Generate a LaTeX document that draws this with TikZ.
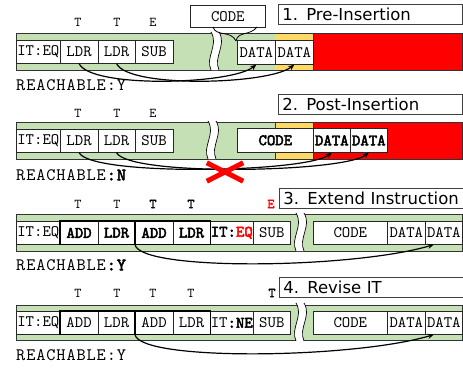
\documentclass[tikz,border=0pt]{standalone}
\usepackage{fontspec}
\setmainfont{DejaVu Sans}
\newfontfamily\monofam{lmmono10-regular.otf}[BoldFont=lmmono10-regular.otf, BoldFeatures={FakeBold=3}]
\newfontfamily\widemono{lmmono10-regular.otf}[BoldFont=lmmono10-regular.otf, BoldFeatures={FakeBold=3}, LetterSpace=5]
\usetikzlibrary{arrows.meta}
\definecolor{stripgreen}{RGB}{197,224,180}
\definecolor{stripyellow}{RGB}{255,217,102}
\definecolor{stripred}{RGB}{255,0,0}

\tikzset{
  cell/.style={draw=black!85, fill=white, line width=0.6pt, inner sep=0pt,
    anchor=north west, minimum height=23pt,
    font=\monofam\fontsize{16}{16}\selectfont},
  titlebox/.style={draw=black!75, fill=white, line width=0.6pt, anchor=north west,
    minimum height=20pt, inner ysep=0pt, inner xsep=4pt, text width=176pt,
    align=left, font=\fontsize{16.5}{17}\selectfont},
  cond/.style={inner sep=0pt, font=\monofam\fontsize{13.5}{13.5}\selectfont},
  reach/.style={anchor=west, inner sep=0pt, font=\widemono\fontsize{17.5}{17.5}\selectfont},
  jump/.style={line width=1.2pt, -{Stealth[length=6pt,width=5pt]}},
  stripline/.style={draw=black!80, line width=0.6pt},
  pairbox/.style={draw=black, line width=1.5pt},
}

% white torn gap across a strip: left x, top y (38 tall)
\newcommand\wavebreak[2]{%
  \fill[white] (#1,#2) .. controls ({#1+8},{#2+13}) and ({#1-6},{#2+25}) .. ({#1},{#2+38})
    -- ({#1+8},{#2+38}) .. controls ({#1+2},{#2+25}) and ({#1+16},{#2+13}) .. ({#1+8},{#2}) -- cycle;
  \draw[line width=0.7pt] (#1,#2) .. controls ({#1+8},{#2+13}) and ({#1-6},{#2+25}) .. ({#1},{#2+38});
  \draw[line width=0.7pt] ({#1+8},{#2}) .. controls ({#1+16},{#2+13}) and ({#1+2},{#2+25}) .. ({#1+8},{#2+38});
}

\begin{document}
\begin{tikzpicture}[x=1pt,y=-1pt]
\useasboundingbox (0,0) rectangle (463,367);

% ---------------- 1. Pre-Insertion ----------------
\fill[stripgreen] (16,33) rectangle (275,70);
\fill[stripyellow] (275,33) rectangle (313,70);
\fill[stripred] (313,33) rectangle (462,70);
\draw[stripline] (16,33) rectangle (462,70);
\draw[stripline] (313,33) -- (313,70);
\wavebreak{211}{32}
\node[cell, minimum width=44pt]   (p1it) at (16,40) {IT:EQ};
\node[cell, minimum width=37.5pt] (p1l1) at (60,40) {LDR};
\node[cell, minimum width=37.5pt] (p1l2) at (97.5,40) {LDR};
\node[cell, minimum width=37.5pt] (p1sb) at (135,40) {SUB};
\node[cell, minimum width=38pt, minimum height=24pt] (p1d1) at (237,40) {DATA};
\node[cell, minimum width=38pt, minimum height=24pt] (p1d2) at (275,40) {DATA};
\node[cell, minimum width=75pt, minimum height=22pt] (p1code) at (190,5) {CODE};
\coordinate (p1tip) at (236,41);
\draw[line width=0.8pt] (213,27) .. controls (216,37) and (231,30) .. (p1tip);
\draw[line width=0.8pt] (257,27) .. controls (250,36) and (238,31) .. (p1tip);
\node[titlebox] (p1title) at (278,4) {1. Pre-Insertion};
\node[cond] (p1c1) at (78,22) {T};
\node[cond] (p1c2) at (117,22) {T};
\node[cond] (p1c3) at (153,22) {E};
\draw[jump] (p1l1.south) .. controls +(12,25) and +(-25,20) .. (p1d1.south);
\draw[jump] (p1l2.south) .. controls +(12,25) and +(-25,20) .. (p1d2.south);
\node[reach] (p1r) at (16,85) {REACHABLE:Y};

% ---------------- 2. Post-Insertion ----------------
\fill[stripgreen] (16,122) rectangle (275,159);
\fill[stripyellow] (275,122) rectangle (313,159);
\fill[stripred] (313,122) rectangle (462,159);
\draw[stripline] (16,122) rectangle (462,159);
\draw[stripline] (275,122) -- (275,159) (313,122) -- (313,159);
\wavebreak{208}{121}
\node[cell, minimum width=44pt]   (p2it) at (16,129) {IT:EQ};
\node[cell, minimum width=37.5pt] (p2l1) at (60,129) {LDR};
\node[cell, minimum width=37.5pt] (p2l2) at (97.5,129) {LDR};
\node[cell, minimum width=37.5pt] (p2sb) at (135,129) {SUB};
\node[cell, minimum width=76pt, minimum height=24pt] (p2code) at (237,128) {\textbf{CODE}};
\node[cell, minimum width=37pt, minimum height=24pt] (p2d1) at (313,128) {\textbf{DATA}};
\node[cell, minimum width=37pt, minimum height=24pt] (p2d2) at (350,128) {\textbf{DATA}};
\node[titlebox] (p2title) at (278,94) {2. Post-Insertion};
\node[cond] (p2c1) at (78,113) {T};
\node[cond] (p2c2) at (117,113) {T};
\node[cond] (p2c3) at (153,113) {E};
\draw[jump] (p2l1.south) .. controls +(12,24) and +(-25,20) .. (p2d1.south);
\draw[jump] (p2l2.south) .. controls +(12,24) and +(-25,20) .. (p2d2.south);
\node[inner sep=0pt, minimum width=36pt, minimum height=18pt] (p2x) at (225,172) {};
\draw[stripred, line width=5pt] (p2x.north west) -- (p2x.south east)
                                (p2x.south west) -- (p2x.north east);
\node[reach] (p2r) at (16,175) {REACHABLE\textbf{:N}};

% ---------------- 3. Extend Instruction ----------------
\fill[stripgreen] (16,214) rectangle (462,251);
\draw[stripline] (16,214) rectangle (462,251);
\wavebreak{296}{213}
\node[cell, minimum width=44pt]   (p3it) at (16,221) {IT:EQ};
\node[cell, minimum width=37.5pt] (p3a1) at (60,221) {\textbf{ADD}};
\node[cell, minimum width=37.5pt] (p3l1) at (97.5,221) {\textbf{LDR}};
\node[cell, minimum width=37.5pt] (p3a2) at (135,221) {\textbf{ADD}};
\node[cell, minimum width=37.5pt] (p3l2) at (172.5,221) {\textbf{LDR}};
\node[cell, minimum width=43pt]   (p3it2) at (210,221) {\textbf{IT:}\textcolor{stripred}{\textbf{EQ}}};
\node[cell, minimum width=37pt]   (p3sb) at (253,221) {SUB};
\node[cell, minimum width=74pt]   (p3code) at (313,221) {CODE};
\node[cell, minimum width=38pt]   (p3d1) at (387,221) {DATA};
\node[cell, minimum width=37pt]   (p3d2) at (425,221) {DATA};
\draw[pairbox] (p3a1.north west) rectangle (p3l1.south east);
\draw[pairbox] (p3a2.north west) rectangle (p3l2.south east);
\node[titlebox] (p3title) at (279,188) {3. Extend Instruction};
\node[cond] (p3c1) at (78,204) {T};
\node[cond] (p3c2) at (117,204) {T};
\node[cond] (p3c3) at (153,204) {\textbf{T}};
\node[cond] (p3c4) at (191,204) {\textbf{T}};
\node[cond, text=stripred] (p3c5) at (271,204) {\textbf{E}};
\draw[jump] (p3a2.south west) .. controls +(5,27) and +(-80,24) .. ([xshift=-10pt]p3d2.south);
\node[reach] (p3r) at (16,265) {REACHABLE\textbf{:Y}};

% ---------------- 4. Revise IT ----------------
\fill[stripgreen] (16,305) rectangle (462,340);
\draw[stripline] (16,305) rectangle (462,340);
\wavebreak{296}{303}
\node[cell, minimum width=44pt]   (p4it) at (16,311) {IT:EQ};
\node[cell, minimum width=37.5pt] (p4a1) at (60,311) {ADD};
\node[cell, minimum width=37.5pt] (p4l1) at (97.5,311) {LDR};
\node[cell, minimum width=37.5pt] (p4a2) at (135,311) {ADD};
\node[cell, minimum width=37.5pt] (p4l2) at (172.5,311) {LDR};
\node[cell, minimum width=43pt]   (p4it2) at (210,311) {IT\textbf{:NE}};
\node[cell, minimum width=37pt]   (p4sb) at (253,311) {SUB};
\node[cell, minimum width=74pt]   (p4code) at (313,311) {CODE};
\node[cell, minimum width=38pt]   (p4d1) at (387,311) {DATA};
\node[cell, minimum width=37pt]   (p4d2) at (425,311) {DATA};
\draw[pairbox] (p4a1.north west) rectangle (p4l1.south east);
\draw[pairbox] (p4a2.north west) rectangle (p4l2.south east);
\node[titlebox] (p4title) at (279,277) {4. Revise IT};
\node[cond] (p4c1) at (78,293) {T};
\node[cond] (p4c2) at (117,293) {T};
\node[cond] (p4c3) at (153,293) {T};
\node[cond] (p4c4) at (191,293) {T};
\node[cond] (p4c5) at (272,293) {\textbf{T}};
\draw[jump] (p4a2.south west) .. controls +(5,27) and +(-80,24) .. ([xshift=-10pt]p4d2.south);
\node[reach] (p4r) at (16,355) {REACHABLE:Y};
\end{tikzpicture}
\end{document}
